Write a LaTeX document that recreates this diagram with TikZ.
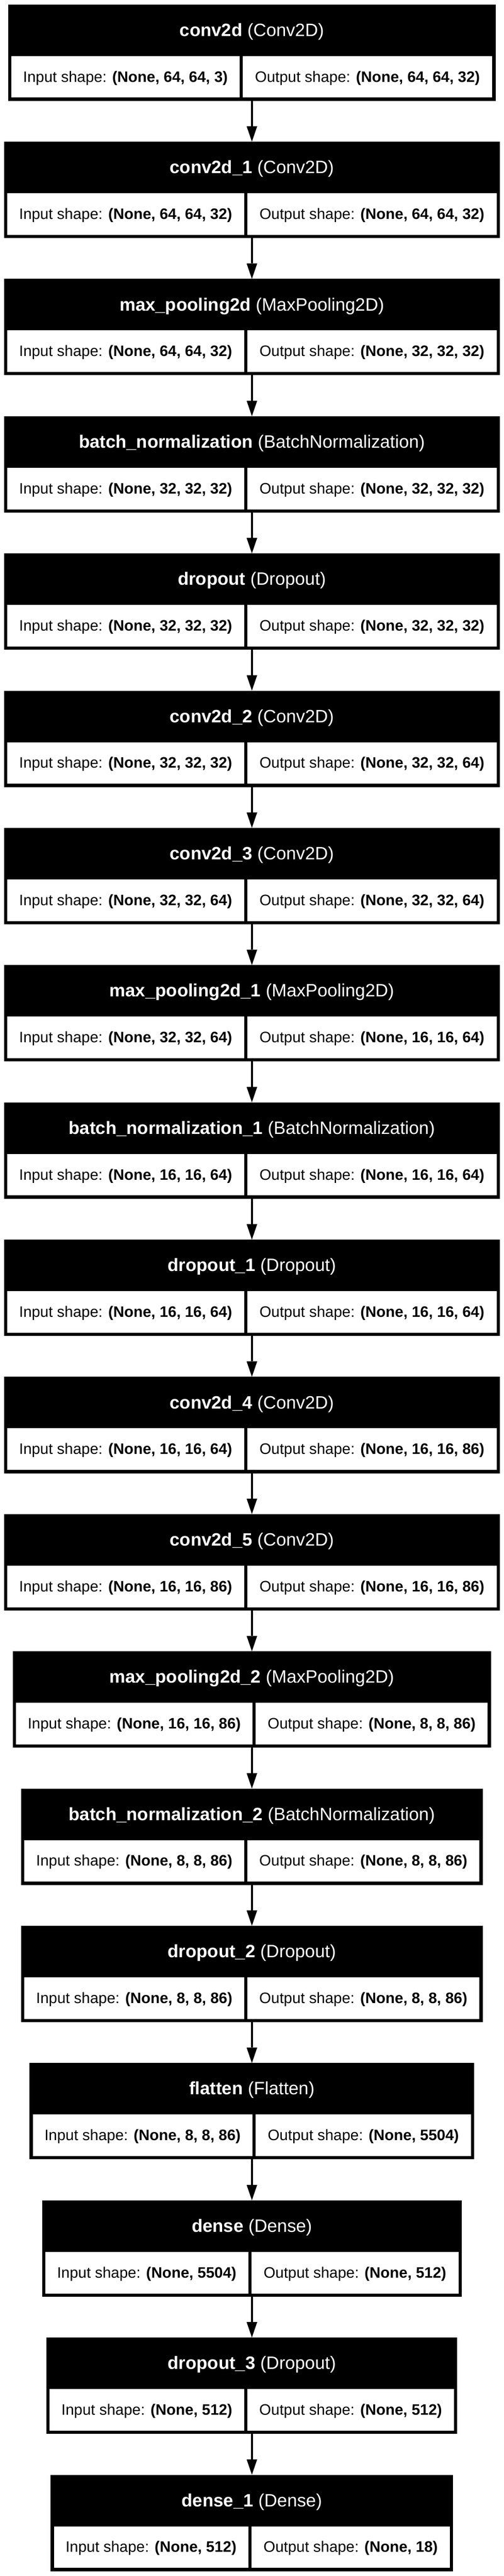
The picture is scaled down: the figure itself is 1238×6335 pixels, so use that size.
\documentclass[tikz,border=0pt]{standalone}
\usepackage{fontspec}
\setmainfont{Liberation Sans}
\usetikzlibrary{arrows.meta}
\tikzset{
  blockbox/.style={rectangle, fill=black, draw=none, inner sep=0pt, outer sep=0pt},
  cellbox/.style={fill=white},
  headtext/.style={text=white, anchor=base, inner sep=0pt, font=\fontsize{44}{53}\selectfont},
  celltext/.style={text=black, anchor=base, inner sep=0pt, font=\fontsize{37.3}{45}\selectfont},
  conn/.style={draw=black, line width=5.6pt, -{Triangle[length=38pt,width=26pt,line width=0pt]}},
}
% #1 node name, #2 index, #3 left x, #4 divider x, #5 layer name, #6 class, #7 input, #8 output
\newcommand\nnblock[8]{%
  \pgfmathsetmacro\nnT{11+337.5*#2}%
  \pgfmathsetmacro\nnR{1238.6-#3}%
  \pgfmathsetmacro\nnW{\nnR-#3}%
  \pgfmathsetmacro\nnCX{(#3+\nnR)/2}%
  \pgfmathsetmacro\nnCY{\nnT+118.5}%
  \node[blockbox, minimum width=\nnW pt, minimum height=237pt] (#1) at (\nnCX,\nnCY) {};
  \fill[cellbox] ({#3+8},{\nnT+126.7}) rectangle ({#4},{\nnT+229});
  \fill[cellbox] ({#4+8},{\nnT+126.7}) rectangle ({\nnR-8},{\nnT+229});
  \node[headtext] (#1h) at (\nnCX,{\nnT+78}) {\textbf{#5} (#6)};
  \node[celltext] (#1i) at ({(#3+8+#4)/2},{\nnT+190.5}) {Input shape: \textbf{#7}};
  \node[celltext] (#1o) at ({(#4+\nnR)/2},{\nnT+190.5}) {Output shape: \textbf{#8}};
}
\begin{document}
\begin{tikzpicture}[x=1pt,y=-1pt]
\useasboundingbox (0,0) rectangle (1238,6335);
\fill[white] (0,0) rectangle (1238,6335);
\coordinate (ax) at (619.3,0);
\nnblock{b0}{0}{20.3}{588.7}{conv2d}{Conv2D}{(None, 64, 64, 3)}{(None, 64, 64, 32)}
\nnblock{b1}{1}{9.8}{600}{conv2d\_1}{Conv2D}{(None, 64, 64, 32)}{(None, 64, 64, 32)}
\nnblock{b2}{2}{9.8}{600}{max\_pooling2d}{MaxPooling2D}{(None, 64, 64, 32)}{(None, 32, 32, 32)}
\nnblock{b3}{3}{9.8}{600}{batch\_normalization}{BatchNormalization}{(None, 32, 32, 32)}{(None, 32, 32, 32)}
\nnblock{b4}{4}{9.8}{600}{dropout}{Dropout}{(None, 32, 32, 32)}{(None, 32, 32, 32)}
\nnblock{b5}{5}{9.8}{600}{conv2d\_2}{Conv2D}{(None, 32, 32, 32)}{(None, 32, 32, 64)}
\nnblock{b6}{6}{9.8}{600}{conv2d\_3}{Conv2D}{(None, 32, 32, 64)}{(None, 32, 32, 64)}
\nnblock{b7}{7}{9.8}{600}{max\_pooling2d\_1}{MaxPooling2D}{(None, 32, 32, 64)}{(None, 16, 16, 64)}
\nnblock{b8}{8}{9.8}{600}{batch\_normalization\_1}{BatchNormalization}{(None, 16, 16, 64)}{(None, 16, 16, 64)}
\nnblock{b9}{9}{9.8}{600}{dropout\_1}{Dropout}{(None, 16, 16, 64)}{(None, 16, 16, 64)}
\nnblock{b10}{10}{9.8}{600}{conv2d\_4}{Conv2D}{(None, 16, 16, 64)}{(None, 16, 16, 86)}
\nnblock{b11}{11}{9.8}{600}{conv2d\_5}{Conv2D}{(None, 16, 16, 86)}{(None, 16, 16, 86)}
\nnblock{b12}{12}{31.6}{620.5}{max\_pooling2d\_2}{MaxPooling2D}{(None, 16, 16, 86)}{(None, 8, 8, 86)}
\nnblock{b13}{13}{52}{600}{batch\_normalization\_2}{BatchNormalization}{(None, 8, 8, 86)}{(None, 8, 8, 86)}
\nnblock{b14}{14}{52}{600}{dropout\_2}{Dropout}{(None, 8, 8, 86)}{(None, 8, 8, 86)}
\nnblock{b15}{15}{72.6}{620.5}{flatten}{Flatten}{(None, 8, 8, 86)}{(None, 5504)}
\nnblock{b16}{16}{103.4}{610.2}{dense}{Dense}{(None, 5504)}{(None, 512)}
\nnblock{b17}{17}{114.2}{600}{dropout\_3}{Dropout}{(None, 512)}{(None, 512)}
\nnblock{b18}{18}{124.5}{610.2}{dense\_1}{Dense}{(None, 512)}{(None, 18)}
\foreach \a/\b in {b0/b1,b1/b2,b2/b3,b3/b4,b4/b5,b5/b6,b6/b7,b7/b8,b8/b9,b9/b10,b10/b11,b11/b12,b12/b13,b13/b14,b14/b15,b15/b16,b16/b17,b17/b18}
  \draw[conn] (\a.south -| ax) -- (\b.north -| ax);
\end{tikzpicture}
\end{document}
